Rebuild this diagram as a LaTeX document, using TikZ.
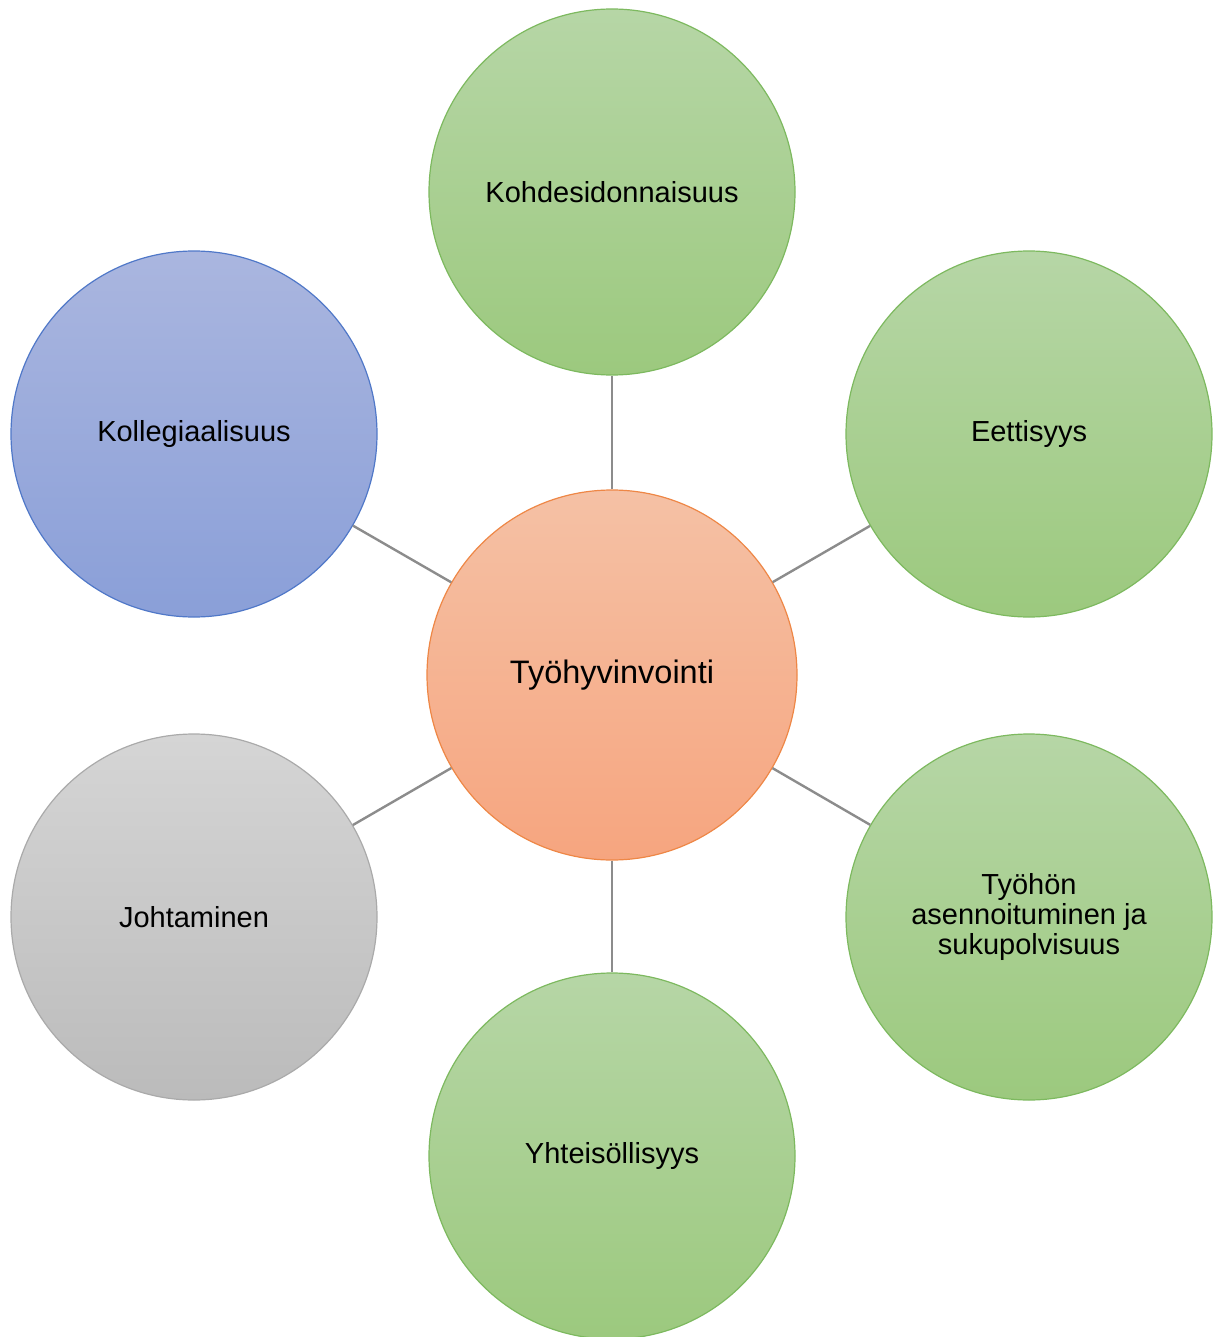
\documentclass[tikz,border=0pt]{standalone}
\usepackage{fontspec}
\setmainfont{Liberation Sans}
\definecolor{gtop}{RGB}{182,214,166}
\definecolor{gbot}{RGB}{156,201,126}
\definecolor{gline}{RGB}{125,185,95}
\definecolor{btop}{RGB}{170,182,223}
\definecolor{bbot}{RGB}{138,159,216}
\definecolor{bline}{RGB}{80,120,200}
\definecolor{ytop}{RGB}{213,213,213}
\definecolor{ybot}{RGB}{187,187,187}
\definecolor{yline}{RGB}{170,170,170}
\definecolor{otop}{RGB}{245,193,165}
\definecolor{obot}{RGB}{246,165,127}
\definecolor{oline}{RGB}{238,135,70}
\definecolor{conn}{RGB}{140,140,140}
\begin{document}
\begin{tikzpicture}[x=1pt,y=-1pt,
  bubble/.style={circle,minimum size=366pt,inner sep=0pt,line width=1.2pt,align=center,
     font=\fontsize{29}{30}\selectfont},
  greenb/.style={bubble,draw=gline,top color=gtop,bottom color=gbot},
  blueb/.style={bubble,draw=bline,top color=btop,bottom color=bbot},
  grayb/.style={bubble,draw=yline,top color=ytop,bottom color=ybot},
  centerb/.style={bubble,minimum size=370pt,draw=oline,top color=otop,bottom color=obot,
     font=\fontsize{32.5}{35}\selectfont},
  link/.style={draw=conn,line width=2.4pt}]
\useasboundingbox (0,0) rectangle (1212,1337);
\node[centerb] (c) at (612,675) {Työhyvinvointi};
\node[greenb] (top) at (612,192) {Kohdesidonnaisuus};
\node[greenb] (ru) at (1029,434) {Eettisyys};
\node[greenb] (rl) at (1029,917) {Työhön\\asennoituminen ja\\sukupolvisuus};
\node[greenb] (bot) at (612,1156) {Yhteisöllisyys};
\node[grayb] (ll) at (194,917) {Johtaminen};
\node[blueb] (lu) at (194,434) {Kollegiaalisuus};
\foreach \n in {top,ru,rl,bot,ll,lu} \draw[link] (c) -- (\n);
\end{tikzpicture}
\end{document}
